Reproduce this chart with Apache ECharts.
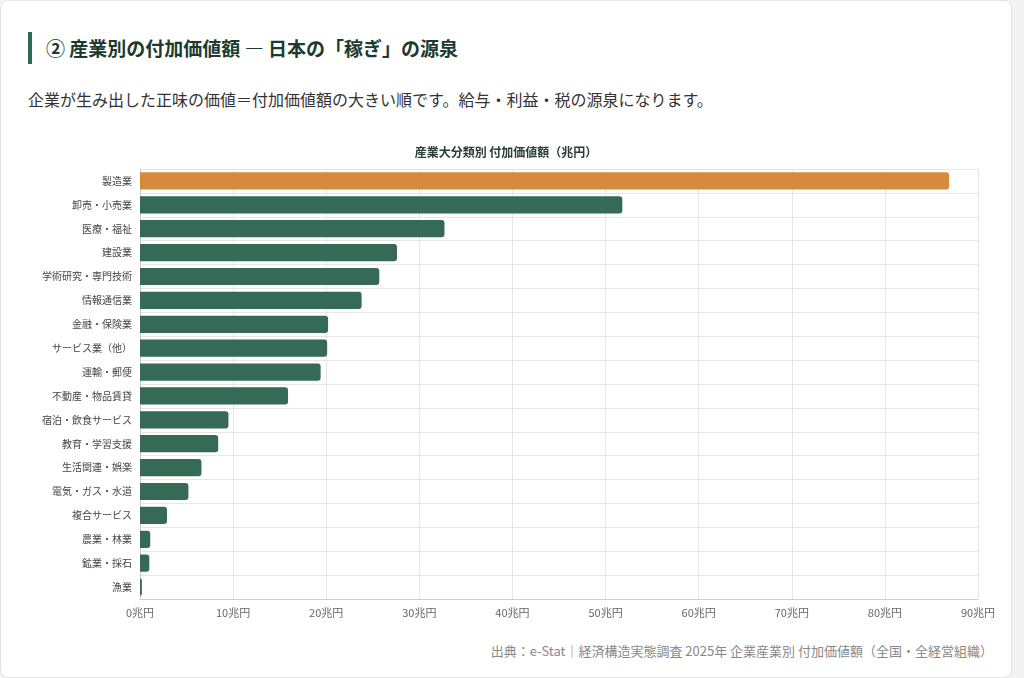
<!DOCTYPE html>
<html lang="ja">
<head>
<meta charset="UTF-8" />
<style>
  body { margin: 0; background: #f3f3f3; font-family: "Noto Sans CJK JP", "Noto Sans", sans-serif; }
  .card { position: absolute; left: 0; top: 0; width: 1010px; height: 676px; background: #fff; border: 1px solid #e4e4e4; border-radius: 8px; }
  h2 { position: absolute; left: 27px; top: 31px; margin: 0; padding-left: 14px; border-left: 4px solid #2f6b52; font-size: 19px; line-height: 32px; color: #1d3a2f; font-weight: bold; }
  .sub { position: absolute; left: 27px; top: 86px; font-size: 16px; color: #333; }
  .src { position: absolute; right: 18px; top: 640px; font-size: 13px; color: #888; }
  #main { position: absolute; left: 0; top: 130px; width: 1010px; height: 510px; }
</style>
</head>
<body>
<div class="card">
  <h2>② 産業別の付加価値額 ― 日本の「稼ぎ」の源泉</h2>
  <div class="sub">企業が生み出した正味の価値＝付加価値額の大きい順です。給与・利益・税の源泉になります。</div>
  <div id="main"></div>
  <div class="src">出典：e-Stat｜経済構造実態調査 2025年 企業産業別 付加価値額（全国・全経営組織）</div>
</div>
<script src="https://cdn.jsdelivr.net/npm/echarts@6/dist/echarts.min.js"></script>
<script>
  const industries = ["製造業", "卸売・小売業", "医療・福祉", "建設業", "学術研究・専門技術", "情報通信業", "金融・保険業", "サービス業（他）", "運輸・郵便", "不動産・物品賃貸", "宿泊・飲食サービス", "教育・学習支援", "生活関連・娯楽", "電気・ガス・水道", "複合サービス", "農業・林業", "鉱業・採石", "漁業"];
  const values = [86.9, 51.8, 32.7, 27.6, 25.7, 23.8, 20.2, 20.1, 19.4, 15.9, 9.5, 8.4, 6.6, 5.2, 2.9, 1.1, 1.0, 0.2];

  var chart = echarts.init(document.getElementById("main"));
  chart.setOption({
    animation: false,
    textStyle: { fontFamily: "Noto Sans CJK JP" },
    title: {
      text: "産業大分類別 付加価値額（兆円）",
      left: "center", top: 10,
      textStyle: { fontSize: 12, fontWeight: "bold", color: "#2b3d35" }
    },
    grid: { left: 139, right: 33, top: 38, bottom: 42 },
    xAxis: {
      type: "value", min: 0, max: 90, interval: 10,
      axisLabel: { formatter: "{value}兆円", color: "#666", fontSize: 11 },
      splitLine: { lineStyle: { color: "#e6e6e6" } },
      axisLine: { show: true, lineStyle: { color: "#ccc" } }
    },
    yAxis: {
      type: "category", inverse: true, data: industries,
      axisLabel: { color: "#444", fontSize: 10 },
      axisTick: { show: false },
      axisLine: { lineStyle: { color: "#ccc" } },
      splitLine: { show: true, lineStyle: { color: "#e6e6e6" } }
    },
    series: [{
      type: "bar",
      data: values.map((v, i) => ({ value: v, itemStyle: { color: i === 0 ? "#d68b3c" : "#356b56" } })),
      barCategoryGap: "28%",
      itemStyle: { borderRadius: [0, 3, 3, 0] }
    }]
  });
</script>
</body>
</html>
